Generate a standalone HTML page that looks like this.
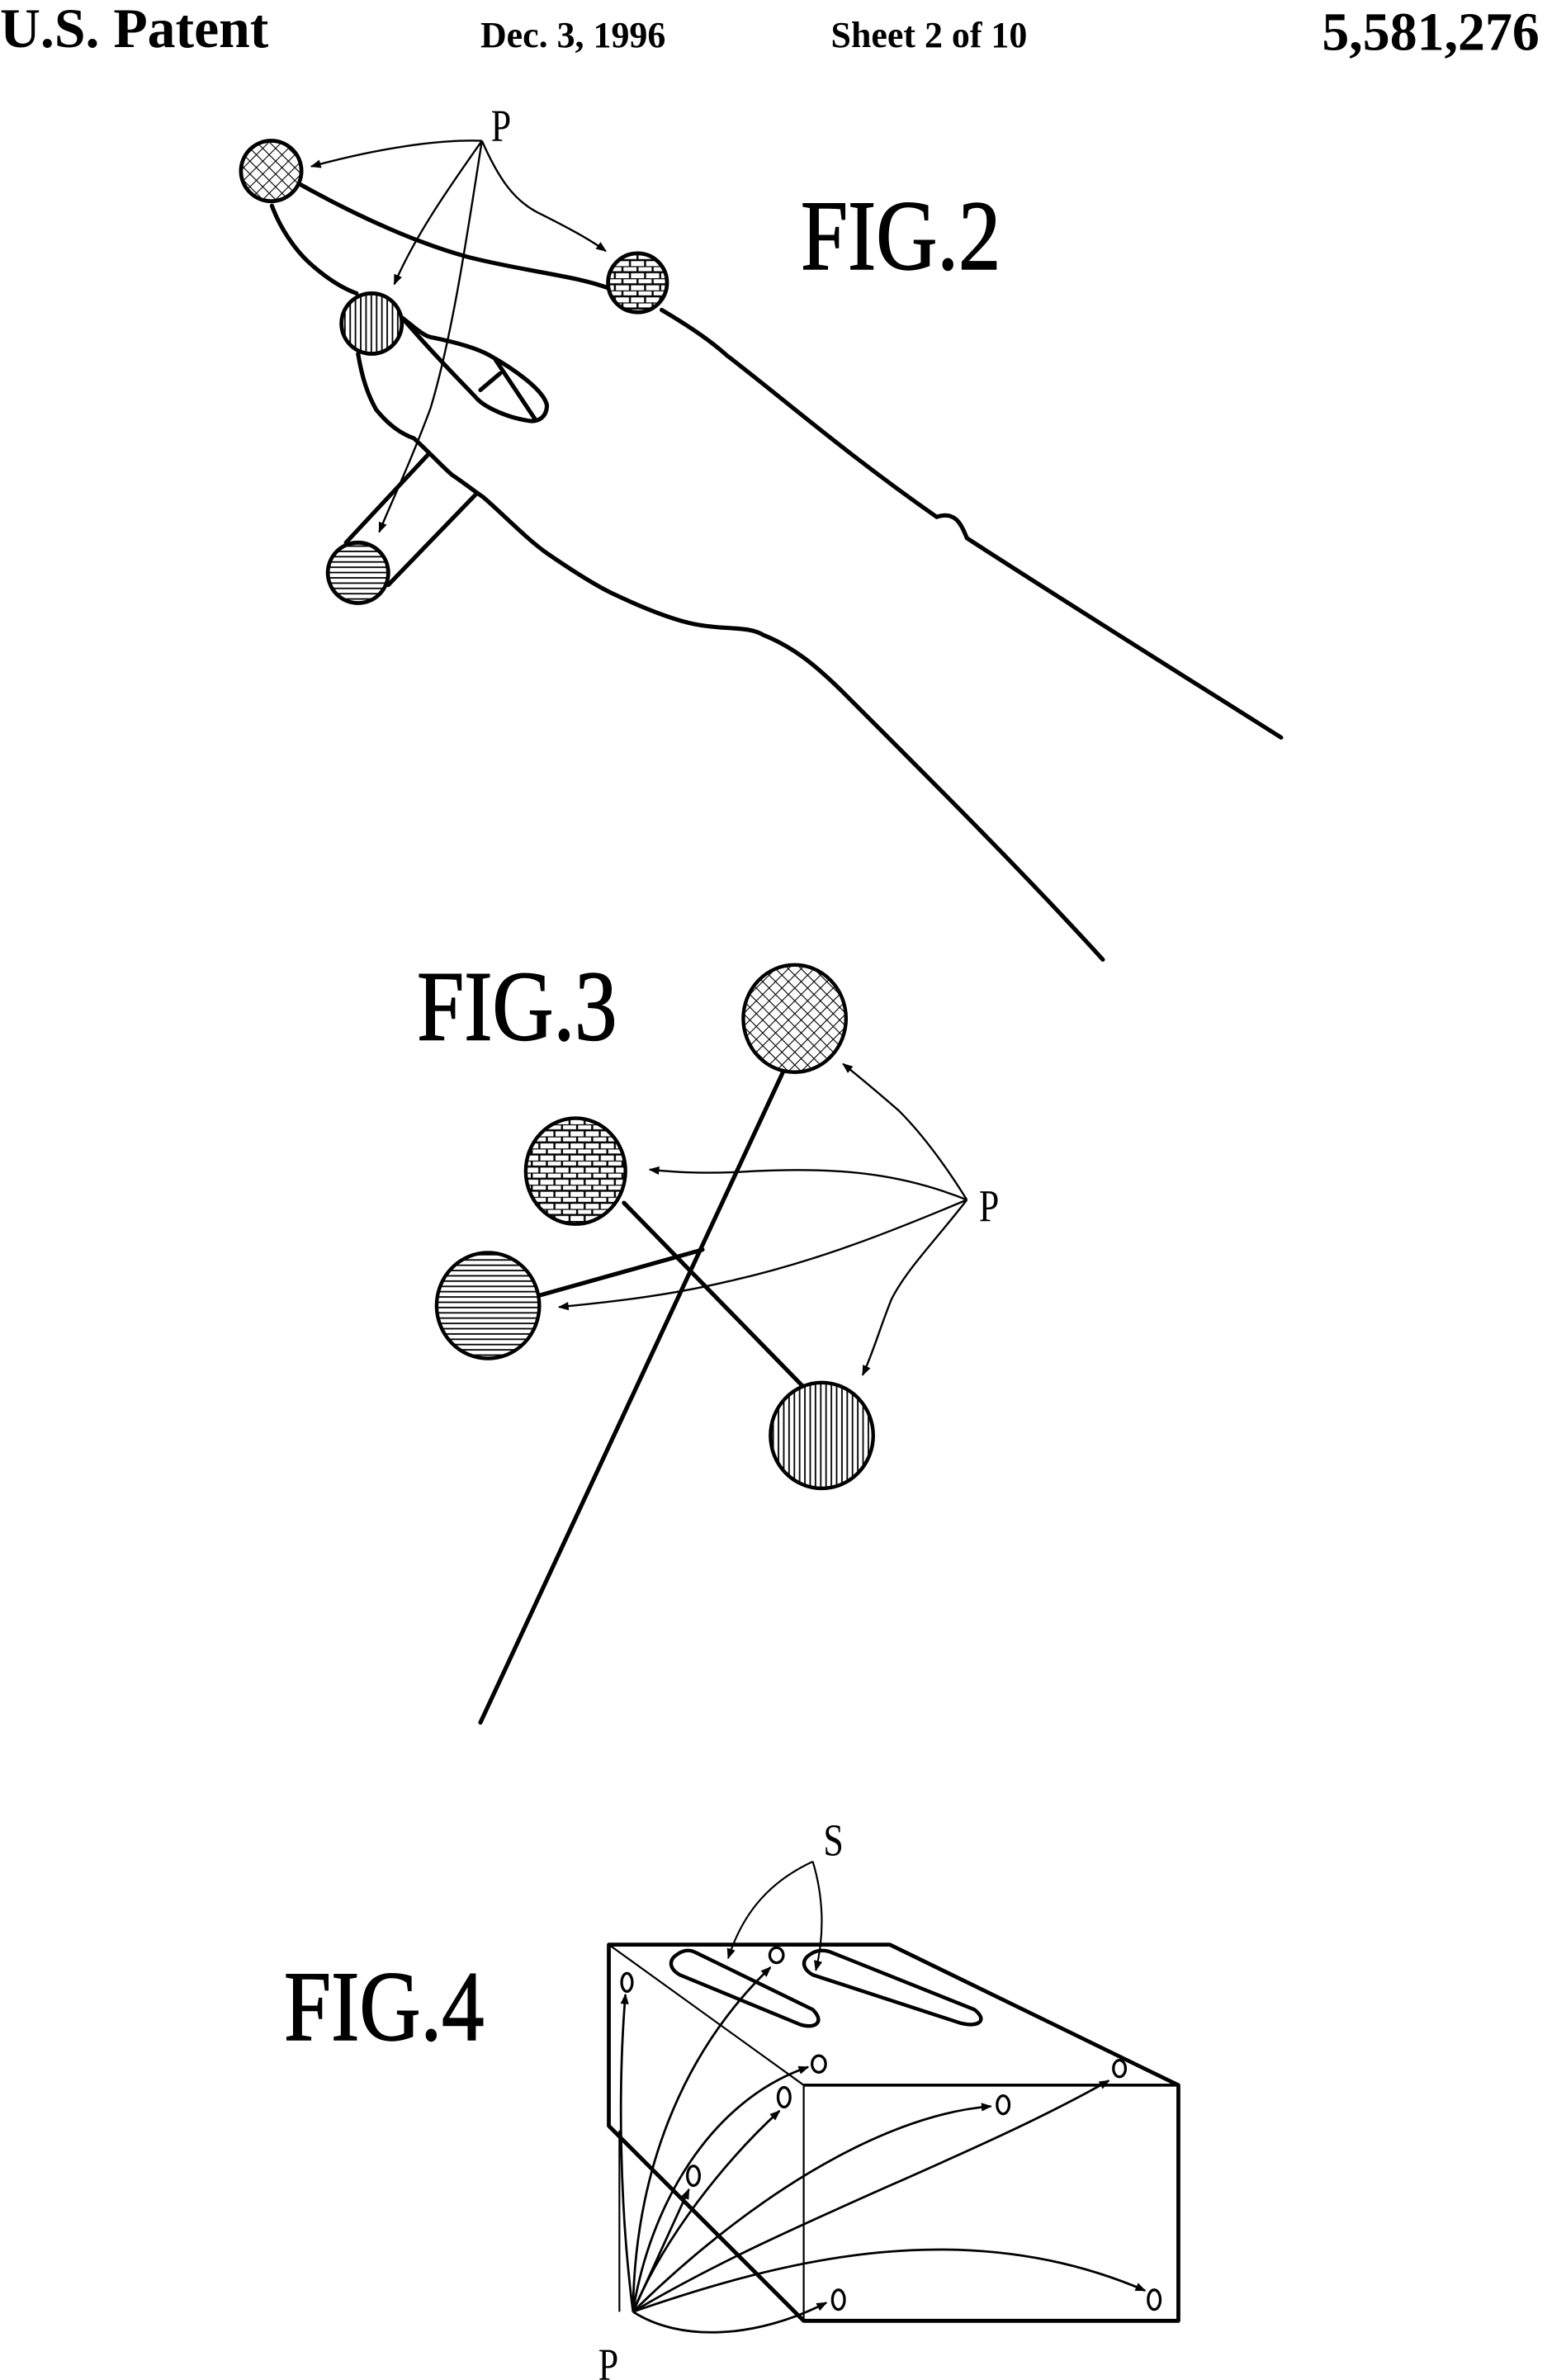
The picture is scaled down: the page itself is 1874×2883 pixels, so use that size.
<!DOCTYPE html>
<html><head><meta charset="utf-8"><style>
html,body{margin:0;padding:0;background:#fff;}
svg{display:block;}
</style></head><body>
<svg width="1874" height="2883" viewBox="0 0 1024 1575" xmlns="http://www.w3.org/2000/svg">
<defs>
<pattern id="hatch" width="6" height="6" patternUnits="userSpaceOnUse" patternTransform="rotate(45)">
<rect width="6" height="6" fill="#fff"/><path d="M0 0H6M0 0V6" stroke="#000" stroke-width="1.2"/></pattern>
<pattern id="brick" width="10" height="8" patternUnits="userSpaceOnUse">
<rect width="10" height="8" fill="#fff"/><path d="M0 0H10M0 4H10M2 0V4M7 4V8" stroke="#000" stroke-width="1.3"/></pattern>
<pattern id="vert" width="3.5" height="4" patternUnits="userSpaceOnUse">
<rect width="3.5" height="4" fill="#fff"/><path d="M0.8 0V4" stroke="#000" stroke-width="1"/></pattern>
<pattern id="horz" width="4" height="3.5" patternUnits="userSpaceOnUse">
<rect width="4" height="3.5" fill="#fff"/><path d="M0 0.8H4" stroke="#000" stroke-width="1"/></pattern>
<marker id="ar" viewBox="0 0 10 10" refX="9" refY="5" markerWidth="9" markerHeight="7" orient="auto" markerUnits="userSpaceOnUse">
<path d="M0 1L10 5L0 9Z" fill="#000"/></marker>
</defs>

<g font-family="Liberation Serif, serif" font-weight="bold" fill="#000">
<text x="0" y="31" font-size="37">U.S. Patent</text>
<text x="318" y="31" font-size="24">Dec. 3, 1996</text>
<text x="550" y="31" font-size="24">Sheet 2 of 10</text>
<text x="1019" y="33" font-size="36" text-anchor="end">5,581,276</text>
</g>

<g font-family="Liberation Serif, serif" fill="#000" stroke="#000" stroke-width="0.8">
<text transform="translate(530,178) scale(0.85,1)" font-size="66">FIG.2</text>
<text transform="translate(276,688) scale(0.85,1)" font-size="66">FIG.3</text>
<text transform="translate(188,1350) scale(0.85,1)" font-size="66">FIG.4</text>
</g>
<g font-family="Liberation Serif, serif" fill="#000">
<text transform="translate(325,93) scale(0.8,1)" font-size="30">P</text>
<text transform="translate(648,808) scale(0.8,1)" font-size="30">P</text>
<text transform="translate(545,1228) scale(0.8,1)" font-size="30">S</text>
<text transform="translate(396,1575) scale(0.8,1)" font-size="30">P</text>
</g>

<!-- FIG.2 -->
<g fill="none" stroke="#000" stroke-width="2.8" stroke-linecap="round">
<path d="M199 122 C240 145 280 162 310 170 C350 180 380 182 404 191"/>
<path d="M438 205 C455 215 470 225 481 235 C520 265 560 300 620 342 C632 338 636 346 640 356 C700 395 780 445 848 488"/>
<path d="M180 136 C185 150 195 165 205 174 C215 183 225 190 236 194"/>
<path d="M266 210 C274 216 280 222 285 223 C300 226 315 230 324 235 C340 244 360 258 362 268 C362 276 356 280 348 278 C336 276 322 270 316 264 C305 252 292 240 266 210"/>
<path d="M318 258 L331 247 M328 238 L354 277"/>
<path d="M237 234 C240 252 244 262 249 271 C258 282 266 287 274 290 C285 300 292 308 299 314 C308 320 314 325 320 329 C335 342 348 356 362 366 C378 377 392 386 404 392 C425 402 445 410 460 413 C480 417 495 414 505 420 C525 428 540 440 560 460 C620 520 680 580 730 635"/>
<path d="M229 359 L284 300 M257 387 L315 327"/>
</g>
<circle cx="179.5" cy="113" r="20" fill="url(#hatch)" stroke="#000" stroke-width="2.6"/>
<circle cx="422" cy="187" r="19.5" fill="url(#brick)" stroke="#000" stroke-width="2.6"/>
<circle cx="246" cy="214" r="20" fill="url(#vert)" stroke="#000" stroke-width="2.6"/>
<circle cx="237" cy="379" r="20" fill="url(#horz)" stroke="#000" stroke-width="2.6"/>
<g fill="none" stroke="#000" stroke-width="1.3" marker-end="url(#ar)">
<path d="M319 93 C290 92 250 98 206 110"/>
<path d="M319 93 C330 118 340 132 355 140 C375 150 390 158 401 166"/>
<path d="M319 93 C300 120 275 155 261 188"/>
<path d="M319 93 C310 150 300 220 285 270 C270 310 260 330 251 352"/>
</g>

<!-- FIG.3 -->
<g fill="none" stroke="#000" stroke-width="2.8" stroke-linecap="round">
<path d="M518 710 L318 1140"/>
<path d="M413 796 L531 917"/>
<path d="M358 857 L465 827"/>
</g>
<ellipse cx="526" cy="674" rx="34" ry="35.5" fill="url(#hatch)" stroke="#000" stroke-width="2.4"/>
<ellipse cx="381" cy="775" rx="33" ry="35" fill="url(#brick)" stroke="#000" stroke-width="2.4"/>
<ellipse cx="323" cy="864" rx="34" ry="35" fill="url(#horz)" stroke="#000" stroke-width="2.4"/>
<ellipse cx="544" cy="950" rx="34" ry="35" fill="url(#vert)" stroke="#000" stroke-width="2.4"/>
<g fill="none" stroke="#000" stroke-width="1.3" marker-end="url(#ar)">
<path d="M640 794 C625 770 610 750 595 735 C580 722 568 712 558 704"/>
<path d="M640 794 C600 778 560 772 500 775 C470 777 450 776 430 774"/>
<path d="M640 794 C590 815 540 835 482 848 C440 858 400 862 370 865"/>
<path d="M640 794 C620 820 600 840 590 860 C582 880 578 895 571 910"/>
</g>

<!-- FIG.4 -->
<g fill="none" stroke="#000" stroke-linejoin="round">
<path d="M403 1287 L589 1287 L780 1380 L780 1536 L532 1536 L403 1407 Z" stroke-width="2.6" fill="none"/>
<path d="M403 1407 L532 1536" stroke-width="2.6"/>
<path d="M532 1380 L780 1380" stroke-width="2"/>
<path d="M403 1287 L532 1380 L532 1536" stroke-width="1.2"/>
<path d="M410 1410 L410 1530" stroke-width="1.2"/>
<path d="M449 1293 C442 1297 443 1303 450 1307 L530 1340 C540 1343 546 1338 538 1330 L460 1292 C456 1290 452 1291 449 1293 Z" stroke-width="2.4"/>
<path d="M537 1293 C530 1297 531 1303 538 1307 L636 1339 C648 1342 654 1337 645 1330 L550 1292 C545 1290 540 1291 537 1293 Z" stroke-width="2.4"/>
</g>
<g fill="#fff" stroke="#000" stroke-width="1.8">
<ellipse cx="415" cy="1312" rx="3.5" ry="6"/>
<ellipse cx="514" cy="1294" rx="4.5" ry="5"/>
<ellipse cx="542" cy="1366" rx="4.5" ry="5.5"/>
<ellipse cx="519" cy="1388" rx="4" ry="6.5"/>
<ellipse cx="459" cy="1440" rx="4" ry="6.5"/>
<ellipse cx="664" cy="1393" rx="4" ry="6"/>
<ellipse cx="741" cy="1369" rx="4" ry="5.5"/>
<ellipse cx="555" cy="1522" rx="4" ry="6.5"/>
<ellipse cx="764" cy="1522" rx="4" ry="6.5"/>
</g>
<g fill="none" stroke="#000" stroke-width="1.5" marker-end="url(#ar)">
<path d="M419 1530 C410 1460 409 1380 414 1320"/>
<path d="M419 1530 C420 1440 450 1360 510 1302"/>
<path d="M419 1530 C430 1460 470 1390 535 1368"/>
<path d="M419 1530 C440 1480 480 1430 516 1397"/>
<path d="M419 1530 L456 1449"/>
<path d="M419 1530 C490 1460 580 1400 656 1394"/>
<path d="M419 1530 C520 1470 640 1430 734 1377"/>
<path d="M419 1530 C520 1495 640 1465 758 1516"/>
<path d="M419 1530 C450 1550 500 1548 547 1524"/>
</g>
<g fill="none" stroke="#000" stroke-width="1.2" marker-end="url(#ar)">
<path d="M538 1232 C510 1245 492 1265 482 1296"/>
<path d="M538 1232 C545 1255 546 1280 540 1304"/>
</g>
</svg>
</body></html>
